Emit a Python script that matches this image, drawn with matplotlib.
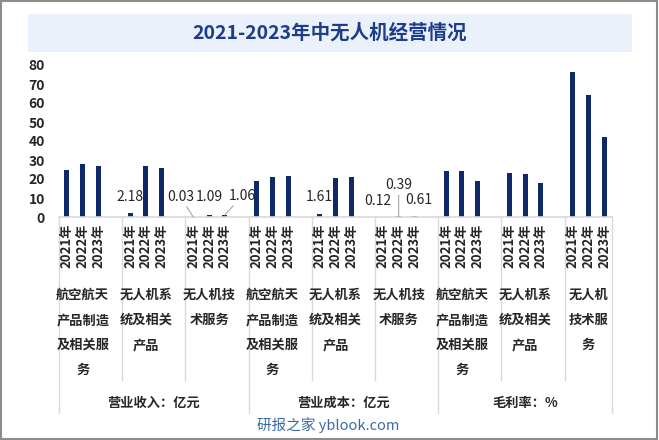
import numpy as np
import matplotlib.pyplot as plt
import matplotlib.transforms as mtransforms
from matplotlib.patches import Rectangle

plt.rcParams['font.family'] = ['Noto Sans CJK SC', 'DejaVu Sans']

# data
years = ['2021年', '2022年', '2023年']
segments = ['航空航天产品制造及相关服务', '无人机系统及相关产品', '无人机技术服务']
metrics = ['营业收入：亿元', '营业成本：亿元', '毛利率：%']

revenue = [[24.7, 27.8, 26.8], [2.18, 26.8, 25.7], [0.03, 1.09, 1.06]]
cost = [[18.9, 21.0, 21.5], [1.61, 20.5, 21.0], [0.12, 0.39, 0.61]]
margin = [[24.2, 24.2, 18.9], [23.1, 22.6, 17.9], [76.2, 64.1, 42.0]]

yticks = [0, 10, 20, 30, 40, 50, 60, 70, 80]

# label offsets in pixels (dx, dy, leader line) for the small bars
label_off = {3: (0, 16, False), 6: (-13, 20, True), 7: (0, 18, False),
             8: (17, 19, True), 12: (0, 17, False), 15: (-5, 16, False),
             16: (0, 31, True), 17: (4, 16, False)}

W, H = 659, 440
navy = '#0f276b'
txt = '#262626'
grid = '#d9d9d9'
wt = 'bold'

def fy(px):
    return 1 - px / H

def wrap(s, n):
    return '\n'.join(s[i:i + n] for i in range(0, len(s), n))

fig = plt.figure(figsize=(W / 100, H / 100), dpi=100)
fig.patches.append(Rectangle((0.001, 0.002), 0.996, 0.995, transform=fig.transFigure,
                             fill=False, edgecolor='#8c8c8c', lw=1.5))
fig.patches.append(Rectangle((28 / W, fy(52)), 604 / W, 38 / H, transform=fig.transFigure,
                             facecolor='#eaf1fb', edgecolor='none'))
fig.text(330 / W, fy(33), '2021-2023年中无人机经营情况', ha='center', va='center',
         fontsize=14, fontweight='bold', color='#1d3c8c')

ax = fig.add_axes([59 / W, fy(217), 553 / W, 152 / H])

values = []
for block in (revenue, cost, margin):
    for seg in block:
        values.extend(seg)
values = np.array(values)
pos = np.array([4 * (k // 3) + k % 3 for k in range(len(values))])

ax.bar(pos, values, width=0.32, color=navy)
ax.set_xlim(-0.5, 34.5)
ax.set_ylim(0, 80)
ax.set_yticks(yticks)
ax.tick_params(axis='y', length=0, labelsize=10, labelcolor=txt, pad=10)
for lab in ax.get_yticklabels():
    lab.set_fontweight(wt)
ax.set_xticks([])
for s in ('top', 'right', 'left'):
    ax.spines[s].set_visible(False)
ax.spines['bottom'].set_color(grid)
ax.spines['bottom'].set_linewidth(1.2)

for k, (dx, dy, line) in label_off.items():
    ax.annotate(f'{values[k]:.2f}', (pos[k], values[k]), xytext=(dx, dy),
                textcoords='offset pixels', ha='center', va='center', fontsize=10,
                color=txt,
                arrowprops=dict(arrowstyle='-', color='#a6a6a6', lw=0.8,
                                shrinkA=0, shrinkB=0) if line else None)

tr = mtransforms.blended_transform_factory(ax.transData, fig.transFigure)

# multi-level category axis
for g in range(9):
    left = 4 * g - 0.5
    full = g % 3 == 0
    bottom = 413 if full else 380
    ax.plot([left, left], [fy(217), fy(bottom)], transform=tr, color=grid, lw=1, clip_on=False)
    for i, y in enumerate(years):
        ax.text(4 * g + i, fy(224), y, transform=tr, rotation=90, ha='center', va='top',
                fontsize=9.5, color=txt, fontweight=wt)
    width = 3 if g == 8 else 4
    ax.text(4 * g + 1, fy(288), wrap(segments[g % 3], width), transform=tr, ha='center',
            va='top', fontsize=9.5, color=txt, linespacing=2.0, fontweight=wt)
ax.plot([34.5, 34.5], [fy(217), fy(413)], transform=tr, color=grid, lw=1, clip_on=False)

for m, name in enumerate(metrics):
    center = (12 * m - 0.5 + min(12 * m + 11.5, 34.5)) / 2
    ax.text(center, fy(403), name, transform=tr, ha='center', va='center',
            fontsize=9.5, color=txt, fontweight=wt)

fig.text(328 / W, fy(425), '研报之家 yblook.com', ha='center', va='center',
         fontsize=10.5, color='#3a6ba5')

fig.savefig('out.png', dpi=100)
